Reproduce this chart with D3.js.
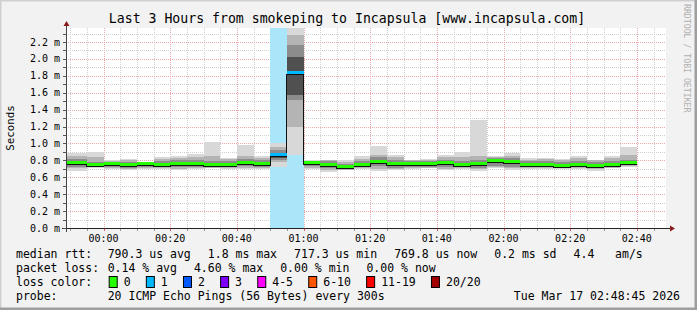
<!DOCTYPE html>
<html>
<head>
<meta charset="utf-8">
<script src="https://cdn.jsdelivr.net/npm/d3@7"></script>
<style>
  body { margin: 0; background: #f2f2f2; }
  text { font-family: "DejaVu Sans Mono", monospace; fill: #000; }
</style>
</head>
<body>
<svg id="chart" width="697" height="310"></svg>
<script>
// 5-minute steps, each value is stamped at the end of its interval
const stepEnds = ["23:50","23:55","00:00","00:05","00:10","00:15","00:20","00:25","00:30","00:35",
  "00:40","00:45","00:50","00:55","01:00","01:05","01:10","01:15","01:20","01:25",
  "01:30","01:35","01:40","01:45","01:50","01:55","02:00","02:05","02:10","02:15",
  "02:20","02:25","02:30","02:35","02:40"];

// round trip times in ms
const medianMs = [0.773,0.773,0.745,0.757,0.745,0.760,0.745,0.757,0.760,0.745,0.745,0.770,0.760,0.864,1.838,0.765,0.745,0.718,0.745,0.785,0.757,0.757,0.760,0.773,0.745,0.754,0.793,0.780,0.745,0.745,0.737,0.749,0.737,0.745,0.773];
const minMs    = [0.675,0.675,0.710,0.700,0.690,0.700,0.700,0.690,0.700,0.705,0.700,0.700,0.700,0.725,0.864,0.700,0.667,0.686,0.700,0.675,0.686,0.700,0.706,0.686,0.700,0.675,0.714,0.690,0.700,0.700,0.700,0.700,0.675,0.706,0.725];
const p10Ms    = [0.705,0.705,0.718,0.712,0.702,0.712,0.708,0.702,0.710,0.712,0.710,0.712,0.712,0.785,1.195,0.712,0.688,0.692,0.710,0.700,0.700,0.710,0.715,0.700,0.710,0.695,0.722,0.705,0.710,0.710,0.708,0.710,0.695,0.712,0.735];
const p25Ms    = [0.725,0.725,0.722,0.722,0.715,0.725,0.718,0.718,0.722,0.720,0.720,0.728,0.725,0.800,1.515,0.728,0.708,0.698,0.718,0.728,0.715,0.722,0.725,0.722,0.720,0.712,0.738,0.725,0.720,0.720,0.715,0.720,0.710,0.720,0.742];
const p40Ms    = [0.748,0.748,0.735,0.740,0.732,0.745,0.732,0.738,0.742,0.732,0.732,0.750,0.745,0.830,1.574,0.748,0.728,0.705,0.732,0.760,0.738,0.742,0.745,0.750,0.732,0.735,0.770,0.755,0.732,0.732,0.725,0.736,0.725,0.732,0.756];
const p60Ms    = [0.795,0.795,0.760,0.772,0.762,0.775,0.765,0.775,0.780,0.762,0.762,0.790,0.776,0.872,2.020,0.778,0.765,0.735,0.762,0.805,0.775,0.772,0.775,0.790,0.762,0.770,0.810,0.800,0.762,0.762,0.755,0.766,0.755,0.762,0.790];
const p75Ms    = [0.818,0.818,0.785,0.785,0.785,0.782,0.790,0.800,0.805,0.790,0.790,0.820,0.800,0.923,2.166,0.790,0.790,0.762,0.790,0.835,0.800,0.792,0.795,0.810,0.790,0.800,0.828,0.825,0.790,0.790,0.780,0.790,0.780,0.790,0.810];
const p90Ms    = [0.852,0.852,0.845,0.795,0.805,0.784,0.815,0.825,0.835,0.855,0.812,0.855,0.825,0.962,2.280,0.797,0.803,0.785,0.820,0.865,0.835,0.803,0.808,0.835,0.845,0.855,0.845,0.855,0.810,0.815,0.805,0.825,0.803,0.830,0.860];
const maxMs    = [0.890,0.890,0.900,0.800,0.815,0.785,0.840,0.852,0.880,1.018,0.830,0.980,0.852,1.010,2.500,0.800,0.810,0.800,0.852,0.974,0.864,0.810,0.815,0.864,0.900,1.280,0.856,0.884,0.824,0.832,0.815,0.848,0.810,0.852,0.962];
// lost pings out of 20
const lossCount = [0,0,0,0,0,0,0,0,0,0,0,0,0,1,1,0,0,0,0,0,0,0,0,0,0,0,0,0,0,0,0,0,0,0,0];

const lossLabels = ["0","1","2","3","4-5","6-10","11-19","20/20"];
const lossColors = ["#26ff00","#00b8ff","#0059ff","#7e00ff","#ff00ff","#ff5500","#ff0000","#a10000"];
const lossBgColors = ["none","#aae6fa","#a8c4ff","#c8a8ff","#ffb0ff","#ffc8a8","#ffb0b0","#e0a8a8"];

const statsRows = [
  ["median rtt:", "790.3 us avg", "1.8 ms max", "717.3 us min", "769.8 us now", "0.2 ms sd", "4.4   am/s"],
  ["packet loss:", "0.14 % avg", "4.60 % max", "0.00 % min", "0.00 % now"]
];

const W = 697, H = 310;
const svg = d3.select("#chart");

const parseEnd = s => {
  const [h, m] = s.split(":").map(Number);
  return new Date(2026, 2, h >= 12 ? 16 : 17, h, m);
};
const tStart = new Date(2026, 2, 16, 23, 48, 45);
const tEnd = new Date(2026, 2, 17, 2, 48, 45);

const x = d3.scaleTime().domain([tStart, tEnd]).range([66, 666]);
const y = d3.scaleLinear().domain([0, 2.366]).range([228, 28]);

const steps = stepEnds.map((s, i) => {
  const end = parseEnd(s);
  return {
    x0: Math.max(x(d3.timeMinute.offset(end, -5)), 66),
    x1: x(end),
    med: medianMs[i], min: minMs[i], p10: p10Ms[i], p25: p25Ms[i], p40: p40Ms[i],
    p60: p60Ms[i], p75: p75Ms[i], p90: p90Ms[i], max: maxMs[i], loss: lossCount[i]
  };
});

function lossIndex(n) {
  if (n <= 3) return n;
  if (n <= 5) return 4;
  if (n <= 10) return 5;
  if (n <= 19) return 6;
  return 7;
}

// frame
svg.append("rect").attr("width", W).attr("height", H).attr("fill", "#f2f2f2");
svg.append("path").attr("d", `M0,${H} V0 H${W}`).attr("stroke", "#cfcfcf").attr("stroke-width", 3).attr("fill", "none");
svg.append("path").attr("d", `M0,${H - 1} H${W - 1} V0`).attr("stroke", "#9e9e9e").attr("stroke-width", 3).attr("fill", "none");

// canvas
svg.append("rect").attr("x", 66).attr("y", 28).attr("width", 600).attr("height", 200).attr("fill", "#fff");
svg.append("clipPath").attr("id", "plot").append("rect").attr("x", 66).attr("y", 28).attr("width", 600).attr("height", 200);

// grid
const grid = svg.append("g").attr("shape-rendering", "crispEdges").attr("stroke-dasharray", "1,1");
const minuteTicks = d3.timeMinute.every(5).range(tStart, tEnd);
grid.selectAll("line.v").data(minuteTicks).join("line")
  .attr("x1", d => Math.round(x(d)) + 0.5).attr("x2", d => Math.round(x(d)) + 0.5)
  .attr("y1", 28).attr("y2", 228)
  .attr("stroke", d => d.getMinutes() % 20 === 0 ? "#eeaaaa" : "#d0d0d0");
const yTicks = d3.range(1, 24).map(i => i / 10);
grid.selectAll("line.h").data(yTicks).join("line")
  .attr("x1", 66).attr("x2", 666)
  .attr("y1", d => Math.round(y(d)) + 0.5).attr("y2", d => Math.round(y(d)) + 0.5)
  .attr("stroke", (d, i) => (i + 1) % 2 === 0 ? "#eeaaaa" : "#d0d0d0");

const plot = svg.append("g").attr("clip-path", "url(#plot)").attr("shape-rendering", "crispEdges");

// loss background
plot.selectAll("rect.lossbg").data(steps.filter(d => d.loss > 0)).join("rect")
  .attr("x", d => d.x0).attr("width", d => d.x1 - d.x0)
  .attr("y", 28).attr("height", 200)
  .attr("fill", d => lossBgColors[lossIndex(d.loss)]);

// smoke bands, outer to inner
const bands = [["min", "max", "#d8d8d8"], ["p10", "p90", "#b4b4b4"], ["p25", "p75", "#8c8c8c"], ["p40", "p60", "#505050"]];
bands.forEach(([lo, hi, col]) => {
  plot.append("g").selectAll("rect").data(steps).join("rect")
    .attr("x", d => d.x0).attr("width", d => d.x1 - d.x0)
    .attr("y", d => y(d[hi])).attr("height", d => y(d[lo]) - y(d[hi]))
    .attr("fill", col);
});

// median step line
const medPts = steps.map(d => [d.x0, d.med]);
medPts.push([steps[steps.length - 1].x1, steps[steps.length - 1].med]);
plot.append("path")
  .attr("d", d3.line().x(d => d[0]).y(d => Math.round(y(d[1])) + 1.5).curve(d3.curveStepAfter)(medPts))
  .attr("fill", "none").attr("stroke", "#111").attr("stroke-width", 1);

// median marks coloured by loss
plot.selectAll("rect.med").data(steps).join("rect")
  .attr("x", d => d.x0).attr("width", d => d.x1 - d.x0)
  .attr("y", d => Math.round(y(d.med)) - 2).attr("height", 3)
  .attr("fill", d => lossColors[lossIndex(d.loss)]);

// axes
const axes = svg.append("g").attr("shape-rendering", "crispEdges");
axes.append("line").attr("x1", 62).attr("x2", 671).attr("y1", 228.5).attr("y2", 228.5).attr("stroke", "#222");
axes.append("line").attr("x1", 66.5).attr("x2", 66.5).attr("y1", 232).attr("y2", 25).attr("stroke", "#444");
axes.selectAll("line.xt").data(minuteTicks).join("line")
  .attr("x1", d => Math.round(x(d)) + 0.5).attr("x2", d => Math.round(x(d)) + 0.5)
  .attr("y1", 229).attr("y2", 231)
  .attr("stroke", d => d.getMinutes() % 20 === 0 ? "#e06060" : "#999");
axes.selectAll("line.yt").data([0].concat(yTicks)).join("line")
  .attr("x1", 63).attr("x2", 66)
  .attr("y1", d => Math.round(y(d)) + 0.5).attr("y2", d => Math.round(y(d)) + 0.5)
  .attr("stroke", "#555");
svg.append("path").attr("d", "M670,225.5 L675,228.5 L670,231.5 Z").attr("fill", "#8b1a1a");
svg.append("path").attr("d", "M63.5,26 L66.5,21 L69.5,26 Z").attr("fill", "#8b1a1a");

// tick labels
svg.append("g").selectAll("text").data([0].concat(yTicks.filter((d, i) => (i + 1) % 2 === 0))).join("text")
  .attr("x", 60).attr("y", d => y(d) + 3.5)
  .attr("text-anchor", "end").attr("font-size", "10px")
  .text(d => d.toFixed(1) + " m");

svg.append("g").selectAll("text").data(minuteTicks.filter(d => d.getMinutes() % 20 === 0)).join("text")
  .attr("x", d => x(d)).attr("y", 242)
  .attr("text-anchor", "middle").attr("font-size", "10px")
  .text(d3.timeFormat("%H:%M"));

// titles
svg.append("text").attr("x", 347).attr("y", 23).attr("text-anchor", "middle")
  .attr("font-size", "13.2px").text("Last 3 Hours from smokeping to Incapsula [www.incapsula.com]");
svg.append("text").attr("transform", "translate(14,128) rotate(-90)").attr("text-anchor", "middle")
  .attr("font-size", "10.8px").text("Seconds");
svg.append("text").attr("transform", "translate(684,4) rotate(90)")
  .attr("font-size", "8.2px").style("fill", "#b0b0b0").text("RRDTOOL / TOBI OETIKER");

// legend
const legend = svg.append("g").attr("font-size", "11.5px").attr("xml:space", "preserve");
statsRows.forEach((row, r) => {
  let lx = 107.7;
  row.forEach((t, i) => {
    const el = legend.append("text").attr("x", i === 0 ? 16 : lx).attr("y", 258 + r * 13.9)
      .style("white-space", "pre").text(t);
    if (i > 0) lx += el.node().getComputedTextLength() + 17;
  });
});
legend.append("text").attr("x", 16).attr("y", 285.7).text("loss color:");
let bx = 108.7;
lossLabels.forEach((lab, i) => {
  legend.append("rect").attr("x", bx + 0.5).attr("y", 276.5).attr("width", 8).attr("height", 11)
    .attr("fill", lossColors[i]).attr("stroke", "#000").attr("stroke-width", 1);
  const t = legend.append("text").attr("x", bx + 15).attr("y", 285.7).text(lab);
  bx += 15 + t.node().getComputedTextLength() + 15.2;
});
legend.append("text").attr("x", 16).attr("y", 300).text("probe:");
legend.append("text").attr("x", 107.7).attr("y", 300).text("20 ICMP Echo Pings (56 Bytes) every 300s");
legend.append("text").attr("x", 680).attr("y", 300).attr("text-anchor", "end").text("Tue Mar 17 02:48:45 2026");
</script>
</body>
</html>
